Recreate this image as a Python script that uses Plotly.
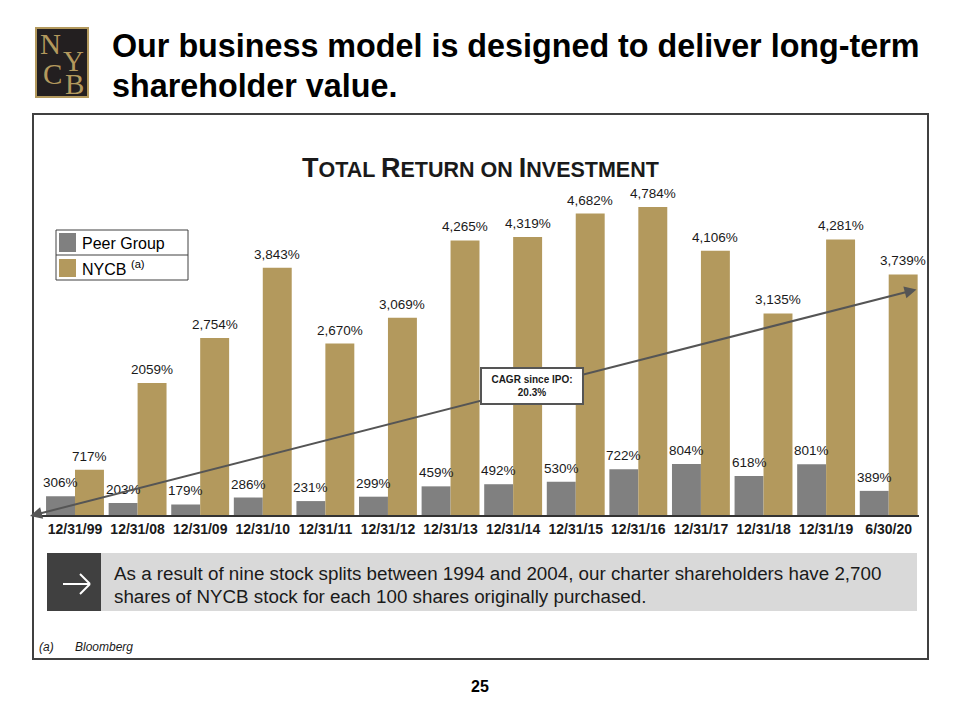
import plotly.graph_objects as go

categories = ["12/31/99", "12/31/08", "12/31/09", "12/31/10", "12/31/11", "12/31/12", "12/31/13",
              "12/31/14", "12/31/15", "12/31/16", "12/31/17", "12/31/18", "12/31/19", "6/30/20"]
peer_values = [306, 203, 179, 286, 231, 299, 459, 492, 530, 722, 804, 618, 801, 389]
nycb_values = [717, 2059, 2754, 3843, 2670, 3069, 4265, 4319, 4682, 4784, 4106, 3135, 4281, 3739]
peer_labels = ["306%", "203%", "179%", "286%", "231%", "299%", "459%", "492%", "530%", "722%",
               "804%", "618%", "801%", "389%"]
nycb_labels = ["717%", "2059%", "2,754%", "3,843%", "2,670%", "3,069%", "4,265%", "4,319%",
               "4,682%", "4,784%", "4,106%", "3,135%", "4,281%", "3,739%"]

W, H = 960, 720
FONT = "Liberation Sans, Arial, sans-serif"
GRAY = "#808080"
GOLD = "#b3995d"


def px(x):
    return x / W


def py(y):
    return 1 - y / H


def note(x, y, text, size, color="#1a1a1a", xanchor="center", family=FONT, **kw):
    return dict(x=px(x), y=py(y), xref="paper", yref="paper", showarrow=False, text=text,
                xanchor=xanchor, yanchor="middle",
                font=dict(family=family, size=size, color=color), **kw)


fig = go.Figure()
fig.add_trace(go.Bar(x=categories, y=peer_values, name="Peer Group", marker_color=GRAY,
                     marker_line_width=0, showlegend=False))
fig.add_trace(go.Bar(x=categories, y=nycb_values, name="NYCB", marker_color=GOLD,
                     marker_line_width=0, showlegend=False))

annotations = []
# value labels
for i, c in enumerate(categories):
    annotations.append(dict(x=c, y=peer_values[i], xref="x", yref="y", text=peer_labels[i],
                            showarrow=False, xshift=-14.5, yshift=4, xanchor="center",
                            yanchor="bottom",
                            font=dict(family=FONT, size=13.5, color="#1a1a1a")))
    annotations.append(dict(x=c, y=nycb_values[i], xref="x", yref="y", text=nycb_labels[i],
                            showarrow=False, xshift=14.5, yshift=4, xanchor="center",
                            yanchor="bottom",
                            font=dict(family=FONT, size=13.5, color="#1a1a1a")))

# trend arrow (double headed)
annotations.append(dict(x=px(30), y=py(516), xref="paper", yref="paper",
                        ax=888, ay=-227, axref="pixel", ayref="pixel",
                        showarrow=True, arrowside="end+start", arrowhead=2, arrowsize=1.2,
                        arrowwidth=2, arrowcolor="#555555", text=""))
# CAGR box
annotations.append(note(532, 386, "<b>CAGR since IPO:<br>20.3%</b>", 10,
                        align="center", bgcolor="white", bordercolor="#555555",
                        borderwidth=2, borderpad=5, width=90))

# chart title
annotations.append(note(480, 168,
                        "<b><span style='font-size:27px'>T</span>OTAL "
                        "<span style='font-size:27px'>R</span>ETURN ON "
                        "<span style='font-size:27px'>I</span>NVESTMENT</b>", 21.5))

# page title
annotations.append(note(110, 46, "<b>Our business model is designed to deliver long-term</b>",
                        32.3, color="#000000", xanchor="left"))
annotations.append(note(110, 86, "<b>shareholder value.</b>", 32.3, color="#000000",
                        xanchor="left"))

# logo letters
for ch, x, y in [("N", 50, 44), ("Y", 73, 61), ("C", 52, 74), ("B", 74, 84)]:
    annotations.append(note(x, y, ch, 29, color=GOLD,
                            family="Liberation Serif, DejaVu Serif, serif"))

# legend texts
annotations.append(note(80, 243, "Peer Group", 16, color="#000000", xanchor="left"))
annotations.append(note(80, 268, "NYCB <sup>(a)</sup>", 16, color="#000000", xanchor="left"))

# callout text
annotations.append(note(112, 573,
                        "As a result of nine stock splits between 1994 and 2004, our charter shareholders have 2,700",
                        18.8, xanchor="left"))
annotations.append(note(112, 596,
                        "shares of NYCB stock for each 100 shares originally purchased.",
                        18.8, xanchor="left"))

# footnote
annotations.append(note(37, 647, "<i>(a)</i>", 12, xanchor="left"))
annotations.append(note(73, 647, "<i>Bloomberg</i>", 12, xanchor="left"))
# page number
annotations.append(note(480, 686, "<b>25</b>", 16, color="#000000"))

shapes = []
# outer frame
shapes.append(dict(type="rect", xref="paper", yref="paper", x0=px(33), x1=px(928),
                   y0=py(659), y1=py(114), line=dict(color="#404040", width=2)))
# logo
shapes.append(dict(type="rect", xref="paper", yref="paper", x0=px(36), x1=px(88),
                   y0=py(97), y1=py(28), fillcolor="#231f20", line=dict(color=GOLD, width=2),
                   layer="below"))
# axis line
shapes.append(dict(type="line", xref="paper", yref="paper", x0=px(35), x1=px(919),
                   y0=py(516), y1=py(516), line=dict(color="#333333", width=2)))
# legend box
shapes.append(dict(type="rect", xref="paper", yref="paper", x0=px(56), x1=px(188),
                   y0=py(280), y1=py(230), line=dict(color="#404040", width=1),
                   fillcolor="white"))
shapes.append(dict(type="line", xref="paper", yref="paper", x0=px(56), x1=px(188),
                   y0=py(255), y1=py(255), line=dict(color="#404040", width=1)))
shapes.append(dict(type="rect", xref="paper", yref="paper", x0=px(59), x1=px(76),
                   y0=py(252), y1=py(233), fillcolor=GRAY, line=dict(width=0)))
shapes.append(dict(type="rect", xref="paper", yref="paper", x0=px(59), x1=px(76),
                   y0=py(277), y1=py(259), fillcolor=GOLD, line=dict(width=0)))
# callout
shapes.append(dict(type="rect", xref="paper", yref="paper", x0=px(101), x1=px(917),
                   y0=py(611), y1=py(553), fillcolor="#d9d9d9", line=dict(width=0), layer="below"))
shapes.append(dict(type="rect", xref="paper", yref="paper", x0=px(47), x1=px(101),
                   y0=py(611), y1=py(553), fillcolor="#404040", line=dict(width=0), layer="below"))
for (x0, y0, x1, y1) in [(63, 584, 90, 584), (80, 574, 90, 584), (80, 594, 90, 584)]:
    shapes.append(dict(type="line", xref="paper", yref="paper", x0=px(x0), y0=py(y0),
                       x1=px(x1), y1=py(y1), line=dict(color="white", width=2)))

fig.update_layout(
    width=W, height=H, autosize=False,
    margin=dict(l=0, r=0, t=0, b=0),
    paper_bgcolor="white", plot_bgcolor="rgba(0,0,0,0)",
    barmode="group", bargap=0.075, bargroupgap=0,
    showlegend=False,
    xaxis=dict(domain=[px(43.7), px(920)], range=[-0.5, 13.5], showgrid=False, zeroline=False,
               showline=False, ticks="", tickfont=dict(family=FONT, size=14, color="#1a1a1a"),
               tickprefix="<b>", ticksuffix="</b>", ticklabelstandoff=3),
    yaxis=dict(domain=[py(516), py(193)], range=[0, 5000], showgrid=False, zeroline=False,
               showline=False, showticklabels=False, ticks=""),
    annotations=annotations, shapes=shapes,
)

fig.write_html("out.html", config={"displayModeBar": False},
               post_script="document.body.style.margin='0';")
